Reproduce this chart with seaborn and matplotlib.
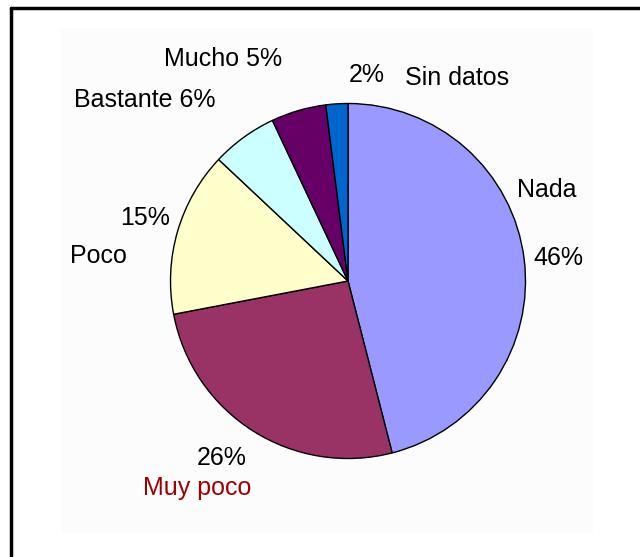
import matplotlib
matplotlib.use("Agg")
import matplotlib.pyplot as plt
import seaborn as sns
from matplotlib.patches import Rectangle
from matplotlib.lines import Line2D

# Datos
categorias = ["Nada", "Muy poco", "Poco", "Bastante", "Mucho", "Sin datos"]
valores = [46, 26, 15, 6, 5, 2]
colores = ["#9999FF", "#993366", "#FFFFCC", "#CCFFFF", "#660066", "#0066CC"]
etiquetas = ["Nada", "46%", "Muy poco", "26%", "Poco", "15%",
             "Bastante 6%", "Mucho 5%", "2%", "Sin datos"]

W, H = 640, 557

sns.set_theme(style="white")
plt.rcParams["font.family"] = ["Liberation Sans", "DejaVu Sans"]

fig = plt.figure(figsize=(W / 100, H / 100), dpi=100)
fig.patch.set_facecolor("white")
ax = fig.add_axes([0, 0, 1, 1])

# fondo del area del grafico
ax.add_patch(Rectangle((61, H - 533), 532, 505, facecolor="#FCFCFC", edgecolor="none", zorder=0))

ax.pie(valores, colors=colores, startangle=90, counterclock=False,
       center=(348, H - 281), radius=177.5, frame=True,
       wedgeprops=dict(edgecolor="black", linewidth=1.0))
ax.set_xlim(0, W)
ax.set_ylim(0, H)
ax.axis("off")

# posiciones de las etiquetas (x izquierda, linea base en px desde arriba)
pos = {
    "Nada": (517, 197),
    "46%": (533, 265),
    "Muy poco": (143, 495),
    "26%": (197, 465),
    "Poco": (70, 263),
    "15%": (120, 225),
    "Bastante 6%": (74, 107),
    "Mucho 5%": (164, 66),
    "2%": (349, 82),
    "Sin datos": (405, 85),
}
for t in etiquetas:
    x, y = pos[t]
    color = "#A00000" if t == "Muy poco" else "black"
    ax.text(x, H - y, t, fontsize=18, color=color, ha="left", va="baseline")

# marco
fig.add_artist(Line2D([10.5 / W, 1.0], [1 - 8 / H, 1 - 8 / H], color="black", linewidth=2.5))
fig.add_artist(Line2D([11 / W, 11 / W], [0, 1 - 8 / H], color="black", linewidth=2.5))

fig.savefig("out.png", dpi=100)
